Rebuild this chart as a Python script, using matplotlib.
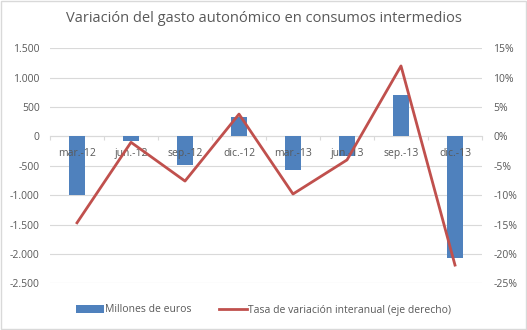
import matplotlib
matplotlib.use("Agg")
import matplotlib.pyplot as plt
import numpy as np
from matplotlib.ticker import FuncFormatter

plt.rcParams['font.family'] = ['Open Sans', 'DejaVu Sans']

# datos trimestrales
trimestres = ['mar.-12', 'jun.-12', 'sep.-12', 'dic.-12',
              'mar.-13', 'jun.-13', 'sep.-13', 'dic.-13']
millones = [-1000, -75, -490, 330, -570, -330, 700, -2070]
tasa = [-14.7, -1.0, -7.6, 3.8, -9.8, -4.0, 12.0, -21.9]

azul = '#4F81BD'
rojo = '#C0504D'
gris_txt = '#595959'
gris_grid = '#D9D9D9'

fig = plt.figure(figsize=(5.27, 3.30), dpi=100)
ax = fig.add_axes([50/527, 1-283.3/330, (482-50)/527, (283.3-48.3)/330])
x = np.arange(len(trimestres))

ax.bar(x, millones, 0.31, color=azul, zorder=2, label='Millones de euros')
ax.set_ylim(-2500, 1500)
ax.set_xlim(-0.5, len(trimestres)-0.5)
ax.set_yticks(np.arange(-2500, 1501, 500))
ax.yaxis.set_major_formatter(FuncFormatter(lambda v, p: '{:,.0f}'.format(v).replace(',', '.')))
ax.grid(axis='y', color=gris_grid, linewidth=0.8)
ax.set_axisbelow(True)
# etiquetas del eje x por encima de las barras
ax.xaxis.set_zorder(3)

for s in ['top', 'right', 'left']:
    ax.spines[s].set_visible(False)
ax.spines['bottom'].set_position(('data', 0))
ax.spines['bottom'].set_color(gris_grid)
ax.spines['bottom'].set_linewidth(0.8)
ax.spines['bottom'].set_zorder(1)

ax.set_xticks(x)
ax.set_xticklabels(trimestres)
ax.set_xticks(np.arange(-0.5, len(trimestres), 1), minor=True)
ax.tick_params(axis='x', which='major', length=0, pad=8, labelsize=7.5, labelcolor=gris_txt)
ax.tick_params(axis='x', which='minor', length=3, color=gris_grid, width=0.8)
ax.tick_params(axis='y', length=0, pad=7.5, labelsize=7.5, labelcolor=gris_txt)

ax2 = ax.twinx()
ax2.plot(x, tasa, color=rojo, linewidth=2, zorder=3,
         label='Tasa de variación interanual (eje derecho)')
ax2.set_ylim(-25, 15)
ax2.set_yticks(np.arange(-25, 16, 5))
ax2.yaxis.set_major_formatter(FuncFormatter(lambda v, p: '{:.0f}%'.format(v)))
ax2.tick_params(axis='y', length=0, pad=8, labelsize=7.5, labelcolor=gris_txt)
for s in ax2.spines.values():
    s.set_visible(False)

fig.text(0.5, 1-18/330, 'Variación del gasto autonómico en consumos intermedios',
         ha='center', va='center', fontsize=10.5, color=gris_txt)

h1, l1 = ax.get_legend_handles_labels()
h2, l2 = ax2.get_legend_handles_labels()
fig.legend(h1 + h2, l1 + l2, loc='center', bbox_to_anchor=(0.5, 1-310/330),
           ncol=2, frameon=False, fontsize=7.5, labelcolor=gris_txt,
           handlelength=2.7, handletextpad=0.15, columnspacing=2.6)

# marco exterior
fig.patches.append(plt.Rectangle((0.002, 0.003), 0.996, 0.994, transform=fig.transFigure,
                                 fill=False, edgecolor='#D9D9D9', linewidth=1))

fig.savefig('out.png', dpi=100)
